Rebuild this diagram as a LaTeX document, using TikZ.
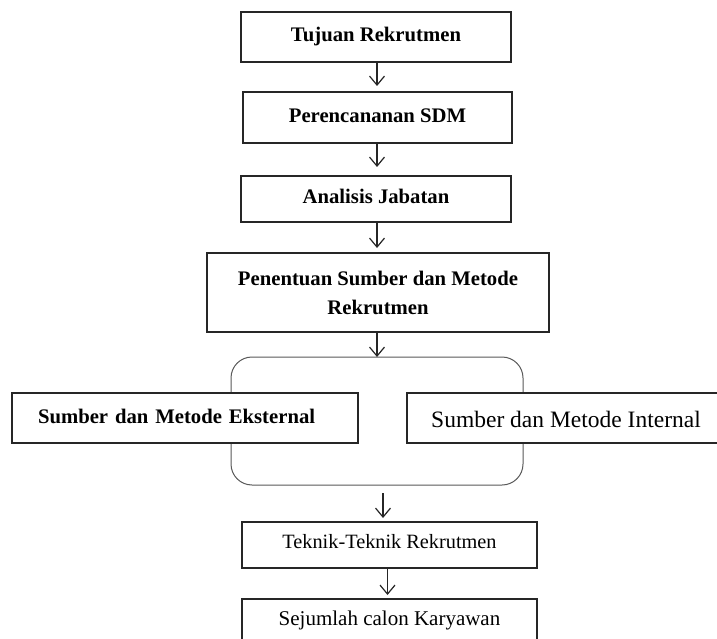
\documentclass[tikz,border=0pt]{standalone}
\usepackage{fontspec}
\setmainfont{Liberation Serif}
\usetikzlibrary{arrows.meta}
\begin{document}
\begin{tikzpicture}[x=1pt,y=-1pt,
  box/.style={draw=black!85, line width=1.3pt, fill=white, inner sep=0pt, outer sep=0pt},
  boldtxt/.style={font=\fontsize{20.7}{29}\selectfont\bfseries, text height=14pt, text depth=4pt},
  smalltxt/.style={font=\fontsize{20.3}{24}\selectfont, text height=12pt, text depth=6pt},
  arr/.style={line width=1.2pt, draw=black!85, -{Straight Barb[length=9pt,width=15pt]}},
  bracket/.style={draw=black!65, line width=1pt, rounded corners=21pt, inner sep=0pt, outer sep=0pt}]
\useasboundingbox (0,0) rectangle (717,639);
\clip (0,0) rectangle (717,639);
\fill[white] (0,0) rectangle (717,639);

\node[box, boldtxt, minimum width=270pt, minimum height=50pt] (b1) at (376,37) {Tujuan Rekrutmen};
\node[box, boldtxt, minimum width=269pt, minimum height=51pt] (b2) at (377.5,117.5) {Perencananan SDM};
\node[box, boldtxt, minimum width=270pt, minimum height=46pt] (b3) at (376,199) {Analisis Jabatan};
\node[box, font=\fontsize{20.7}{29}\selectfont\bfseries, align=center, minimum width=342pt, minimum height=79pt] (b4) at (378,292.5) {Penentuan Sumber dan Metode\\Rekrutmen};

\node[bracket, minimum width=292pt, minimum height=128pt] (br) at (377,421) {};

\node[box, boldtxt, inner xsep=26pt, text width=294pt, align=left, minimum height=50pt] (ext) at (185,418) {Sumber dan Metode Eksternal};
\node[box, font=\fontsize{23.5}{28}\selectfont, text height=20pt, text depth=2pt, minimum width=318pt, minimum height=50pt] (int) at (566,418) {Sumber dan Metode Internal};

\node[box, smalltxt, minimum width=295pt, minimum height=46pt] (tek) at (389.5,545) {Teknik-Teknik Rekrutmen};
\node[box, smalltxt, font=\fontsize{21}{24}\selectfont, minimum width=295pt, minimum height=46pt] (sej) at (389.5,622) {Sejumlah calon Karyawan};

\coordinate (a5s) at ([xshift=6pt]br.south);
\coordinate (a6s) at ([xshift=-2pt]tek.south);

\draw[arr, shorten >=6pt] ([xshift=1pt]b1.south) -- ([xshift=1pt]b1.south |- b2.north);
\draw[arr, shorten >=9pt] ([xshift=-0.5pt]b2.south) -- ([xshift=-0.5pt]b2.south |- b3.north);
\draw[arr, shorten >=5pt] ([xshift=1pt]b3.south) -- ([xshift=1pt]b3.south |- b4.north);
\draw[arr] ([xshift=-1pt]b4.south) -- ([xshift=-1pt]b4.south |- br.north);
\draw[arr, shorten <=8pt, shorten >=4pt] (a5s) -- (a5s |- tek.north);
\draw[arr, shorten >=4pt] (a6s) -- (a6s |- sej.north);
\end{tikzpicture}
\end{document}
